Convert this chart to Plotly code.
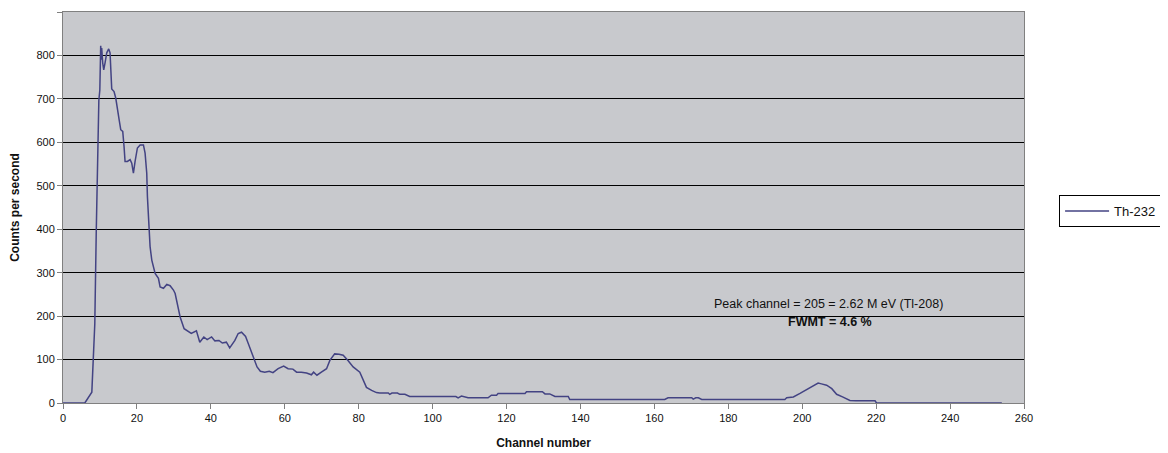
import plotly.graph_objects as go

channel = [0, 5.9, 7.8, 8.1, 8.4, 8.6, 9.0, 9.7, 9.96, 10.2, 10.35, 10.47, 10.74,
           11.02, 11.38, 11.83, 12.37, 12.73, 13.18, 13.81, 14.27, 14.72, 15.26,
           15.62, 16.16, 16.52, 16.79, 17.42, 18.15, 18.6, 19.05, 19.5, 20.13,
           20.86, 21.76, 22.21, 22.66, 22.84, 23.2, 23.56, 24.02, 24.92, 25.82,
           26.27, 27.18, 28.08, 28.98, 29.88, 30.34, 30.79, 31.69, 32.77, 33.5,
           33.95, 34.7, 36.1, 37.0, 38.1, 39.0, 40.2, 41.1, 42.2, 43.1, 44.2,
           45.1, 46.5, 47.4, 48.3, 49.4, 50.3, 51.4, 52.5, 53.4, 54.6, 55.8,
           56.8, 58.2, 59.7, 60.9, 62.2, 63.2, 64.5, 65.9, 67.2, 67.8, 68.7,
           69.9, 71.3, 72.2, 73.5, 74.7, 75.8, 77.1, 78.5, 80.3, 81.2, 82.1,
           83.5, 84.8, 85.7, 88.0, 88.4, 89.0, 90.5, 91.1, 92.5, 93.8, 106.3,
           106.9, 107.8, 109.6, 115.0, 115.9, 117.3, 117.7, 125.0, 125.4, 129.7,
           130.4, 131.7, 133.1, 136.7, 137.1, 162.8, 163.7, 170.1, 170.5, 171.2,
           171.9, 172.8, 195.3, 195.8, 197.6, 199.4, 201.2, 202.5, 203.4, 204.3,
           205.2, 206.6, 208.0, 209.3, 210.9, 212.9, 214.5, 219.7, 220.1, 254.0]
counts = [0, 0, 25, 75, 136, 182, 397, 697, 720, 822, 790, 817, 783,
          767, 783, 806, 815, 806, 723, 717, 702, 671, 648,
          629, 625, 590, 556, 556, 560, 552, 529, 556, 587,
          594, 594, 575, 529, 475, 398, 360, 329, 298, 287,
          267, 264, 273, 270, 260, 252, 233, 198, 171, 167,
          163, 160, 166, 140, 152, 146, 152, 143, 144, 138, 140,
          127, 144, 160, 163, 153, 133, 106, 83, 73, 71, 73,
          70, 79, 85, 79, 78, 71, 71, 69, 65, 71, 64,
          71, 79, 98, 113, 112, 110, 98, 83, 71, 52, 36,
          29, 24, 23, 23, 20, 23, 23, 20, 20, 15, 15,
          12, 16, 12, 12, 18, 18, 22, 22, 26, 26,
          21, 21, 15, 15, 8, 8, 12, 12, 9, 12,
          12, 8, 8, 12, 14, 22, 31, 38, 42, 46,
          44, 41, 33, 20, 14, 6, 5, 5, 0, 0]

series_name = "Th-232"
x_ticks = list(range(0, 261, 20))
y_ticks = list(range(0, 901, 100))
note_peak = "Peak channel = 205 = 2.62 M eV (Tl-208)"
note_fwmt = "<b>FWMT = 4.6 %</b>"

FONT = "Liberation Sans, Arial, sans-serif"

fig = go.Figure()
fig.add_trace(go.Scatter(
    x=channel, y=counts, mode="lines", name=series_name,
    line=dict(color="#434383", width=1.5),
))

fig.add_annotation(x=207.2, y=228, text=note_peak, showarrow=False,
                   font=dict(family=FONT, size=12.5, color="#111"),
                   xanchor="center", yanchor="middle")
fig.add_annotation(x=207.5, y=186, text=note_fwmt, showarrow=False,
                   font=dict(family=FONT, size=12.5, color="#111"),
                   xanchor="center", yanchor="middle")

# The page body has an 8px margin; the figure is sized to fit inside it.
fig.update_layout(
    width=1160, height=445,
    margin=dict(l=55, r=144, t=4, b=50, pad=0),
    paper_bgcolor="white",
    plot_bgcolor="#C8C9CD",
    font=dict(family=FONT, size=11, color="#111"),
    showlegend=True,
    legend=dict(x=1.0365, y=0.532, xanchor="left", yanchor="top",
                bgcolor="white", bordercolor="black", borderwidth=1,
                font=dict(family=FONT, size=13, color="#111"),
                tracegroupgap=0, itemwidth=44),
    xaxis=dict(range=[0, 260], tickvals=x_ticks, ticks="outside", ticklen=5,
               tickcolor="#808080", showgrid=False, zeroline=False,
               showline=True, linecolor="#808080", linewidth=1, mirror=True,
               automargin=False,
               tickfont=dict(size=11, color="#111"),
               title=dict(text="<b>Channel number</b>", font=dict(size=12))),
    yaxis=dict(range=[0, 900], tickvals=y_ticks, ticks="outside", ticklen=5,
               tickcolor="#808080", showgrid=True, gridcolor="black",
               gridwidth=1, zeroline=False,
               showline=True, linecolor="#808080", linewidth=1, mirror=True,
               automargin=False,
               tickfont=dict(size=11, color="#111"),
               title=dict(text="<b>Counts per second</b>", font=dict(size=12))),
)

fig.write_html("out.html")
